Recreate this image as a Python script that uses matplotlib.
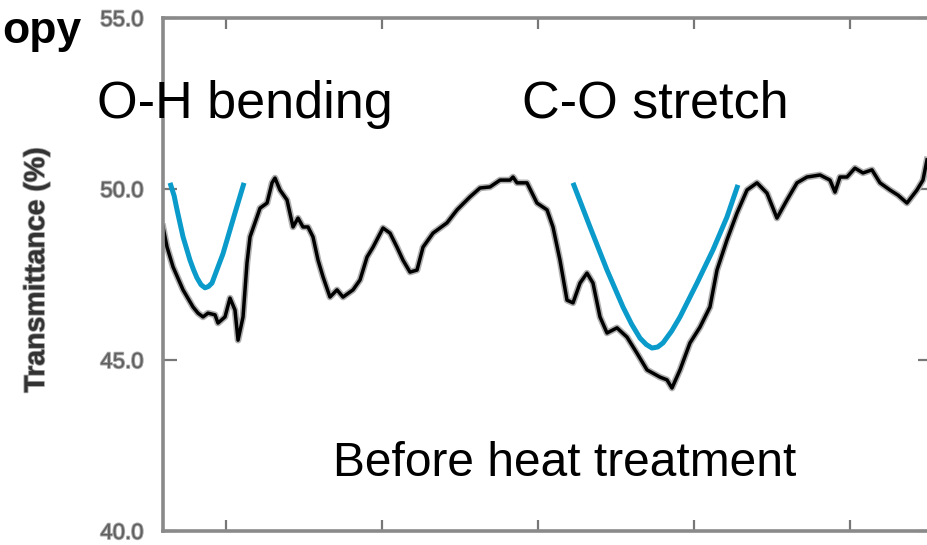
import matplotlib
matplotlib.use("Agg")
import matplotlib.pyplot as plt
import matplotlib.patheffects as pe

# ---- data (wavenumber, cm-1 ; transmittance, %) ----
wavenumber = [1680.8, 1675.6, 1667.9, 1655.1, 1642.3, 1635.9, 1629.5, 1623.1, 1614.1, 1610.3,
              1601.3, 1594.9, 1588.5, 1584.6, 1578.2, 1573.1, 1569.2, 1560.3, 1556.4, 1547.4,
              1541.0, 1537.2, 1530.8, 1521.8, 1514.1, 1507.7, 1501.3, 1494.9, 1488.5, 1482.0,
              1475.6, 1466.7, 1457.7, 1450.0, 1437.2, 1428.2, 1419.2, 1411.5, 1398.7, 1389.7,
              1380.8, 1373.1, 1364.1, 1355.1, 1347.4, 1334.6, 1316.7, 1303.8, 1287.2, 1274.3,
              1261.5, 1248.7, 1235.9, 1232.0, 1226.9, 1214.1, 1201.3, 1188.4, 1180.8, 1171.8,
              1162.8, 1155.1, 1146.1, 1137.2, 1129.5, 1120.5, 1111.5, 1098.7, 1085.9, 1073.1,
              1060.2, 1043.6, 1034.6, 1028.2, 1017.9, 1005.1, 992.3, 979.5, 970.5, 957.7,
              944.8, 932.0, 919.2, 906.4, 893.6, 880.7, 867.9, 855.1, 838.4, 825.6,
              819.2, 812.8, 803.8, 793.6, 783.3, 771.8, 761.5, 748.7, 738.4, 726.9,
              714.1, 706.4, 701.2]
transmittance = [48.89, 48.30, 47.72, 47.05, 46.55, 46.37, 46.26, 46.37, 46.32, 46.08,
                 46.26, 46.81, 46.46, 45.58, 46.26, 47.84, 48.60, 49.18, 49.44, 49.59,
                 50.18, 50.32, 49.97, 49.68, 48.89, 49.15, 48.89, 48.89, 48.60, 47.92,
                 47.43, 46.84, 47.05, 46.84, 47.05, 47.34, 48.01, 48.30, 48.86, 48.71,
                 48.30, 47.92, 47.57, 47.63, 48.30, 48.71, 49.01, 49.39, 49.77, 50.03,
                 50.06, 50.26, 50.26, 50.35, 50.18, 50.18, 49.59, 49.39, 48.89, 47.92,
                 46.75, 46.67, 47.25, 47.54, 47.25, 46.26, 45.79, 45.94, 45.67, 45.20,
                 44.71, 44.50, 44.42, 44.18, 44.71, 45.50, 45.96, 46.55, 47.63, 48.51,
                 49.30, 49.97, 50.18, 49.88, 49.15, 49.68, 50.18, 50.35, 50.41, 50.26,
                 49.91, 50.35, 50.35, 50.61, 50.47, 50.56, 50.18, 49.97, 49.82, 49.59,
                 49.97, 50.26, 50.85]

# guide curves marking the bands
oh_wn = [1671.8, 1666.5, 1662.8, 1655.1, 1646.2, 1641.5, 1637.2, 1632.0, 1626.9, 1622.5,
         1618.0, 1610.3, 1604.0, 1598.7, 1588.5, 1576.9]
oh_t = [50.18, 49.80, 49.39, 48.60, 47.92, 47.63, 47.40, 47.20, 47.11, 47.15,
        47.25, 47.72, 48.10, 48.51, 49.30, 50.18]
co_wn = [1155.1, 1133.3, 1111.5, 1091.0, 1080.0, 1069.2, 1061.0, 1053.8, 1046.5, 1039.7,
         1028.5, 1017.9, 996.1, 975.6, 957.7, 943.6]
co_t = [50.18, 48.89, 47.63, 46.55, 46.05, 45.64, 45.45, 45.35, 45.38, 45.50,
        45.85, 46.26, 47.25, 48.22, 49.18, 50.12]

yticks = [40, 45, 50, 55]
ytick_labels = ["40.0", "45.0", "50.0", "55.0"]
xticks = [1600, 1400, 1200, 1000, 800]

fig = plt.figure(figsize=(9.27, 5.45), dpi=100)
ax = fig.add_axes([163 / 927, 14 / 545, (932 - 163) / 927, (531 - 18) / 545])

ax.plot(wavenumber, transmittance, color="black", lw=2.5, solid_joinstyle="round",
        path_effects=[pe.Stroke(linewidth=4.8, foreground="#b0b0b0"), pe.Normal()])
ax.plot(oh_wn, oh_t, color="#0a9bcb", lw=3.6, solid_joinstyle="round", solid_capstyle="butt")
ax.plot(co_wn, co_t, color="#0a9bcb", lw=3.6, solid_joinstyle="round", solid_capstyle="butt")

ax.set_xlim(1680.8, 694.8)
ax.set_ylim(40, 55)
ax.set_yticks(yticks)
ax.set_yticklabels(ytick_labels)
ax.set_xticks(xticks)
ax.set_xticklabels([])
ax.tick_params(direction="in", width=1.6, color="#777777",
               top=True, right=True, labelsize=16, labelcolor="#606060", pad=14)
ax.tick_params(axis="y", length=10)
ax.tick_params(axis="x", length=8)
for lab in ax.get_yticklabels():
    lab.set_fontfamily("Liberation Sans")
    lab.set_path_effects([pe.withStroke(linewidth=1.4, foreground="#a8a8a8")])
for sp in ax.spines.values():
    sp.set_color("#8a8a8a")
    sp.set_linewidth(2.6)

fig.text(37 / 927, 1 - 270 / 545, "Transmittance (%)", rotation=90, ha="center", va="center",
         fontsize=20.5, fontweight="bold", color="#333333", family="Liberation Sans",
         path_effects=[pe.withStroke(linewidth=1.3, foreground="#a0a0a0")])
fig.text(81 / 927, 1 - 43 / 545, "opy", ha="right", va="baseline", fontsize=32,
         fontweight="bold", color="black", family="Liberation Sans")

fig.text(97 / 927, 1 - 118 / 545, "O-H bending", ha="left", va="baseline", fontsize=37.5,
         color="black", family="Liberation Sans")
fig.text(522 / 927, 1 - 118 / 545, "C-O stretch", ha="left", va="baseline", fontsize=37.5,
         color="black", family="Liberation Sans")
fig.text(333 / 927, 1 - 476 / 545, "Before heat treatment", ha="left", va="baseline",
         fontsize=34.5, color="black", family="Liberation Sans")

fig.savefig("out.png", dpi=100)
